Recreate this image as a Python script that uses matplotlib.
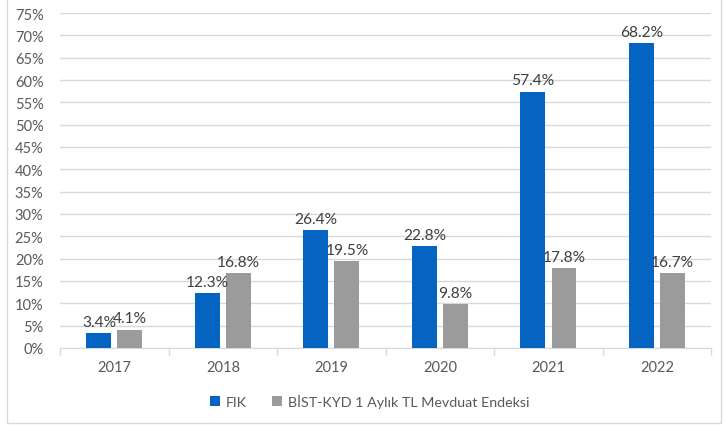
import numpy as np
import matplotlib.pyplot as plt
from matplotlib.patches import Rectangle

years = ["2017", "2018", "2019", "2020", "2021", "2022"]
fik = [3.4, 12.3, 26.4, 22.8, 57.4, 68.2]
bist = [4.1, 16.8, 19.5, 9.8, 17.8, 16.7]
yticks = np.arange(0, 80, 5)

plt.rcParams['font.family'] = ['Lato', 'DejaVu Sans']
txt = '#595959'

fig = plt.figure(figsize=(7.25, 4.27), dpi=100)
ax = fig.add_axes([0.083, 0.183, 0.898, 0.784])

x = np.arange(len(years))
w = 0.23
off = 0.143
b1 = ax.bar(x - off, fik, w, color='#0563C1', label='FIK', zorder=3)
b2 = ax.bar(x + off, bist, w, color='#9B9B9B', label='BİST-KYD 1 Aylık TL Mevduat Endeksi', zorder=3)

for bars, vals in ((b1, fik), (b2, bist)):
    for r, v in zip(bars, vals):
        ax.annotate(f"{v:.1f}%", (r.get_x() + r.get_width() / 2, v),
                    xytext=(0, 3), textcoords='offset points',
                    ha='center', va='bottom', fontsize=11.2, color='#404040')

ax.set_xlim(-0.5, len(years) - 0.5)
ax.set_ylim(0, 75)
ax.set_yticks(yticks)
ax.set_yticklabels([f"{t}%" for t in yticks])
ax.yaxis.grid(True, color='#D9D9D9', linewidth=1, zorder=0)
ax.tick_params(axis='y', length=0, labelsize=10.5, labelcolor=txt, pad=12)

ax.set_xticks(x)
ax.set_xticklabels(years)
ax.tick_params(axis='x', length=0, labelsize=10.5, labelcolor=txt, pad=9)
ax.set_xticks(np.arange(len(years) + 1) - 0.5, minor=True)
ax.tick_params(axis='x', which='minor', length=5, color='#D9D9D9', width=1)

for s in ['top', 'right', 'left']:
    ax.spines[s].set_visible(False)
ax.spines['bottom'].set_color('#D9D9D9')

fig.legend(handles=[b1, b2], loc='center', bbox_to_anchor=(0.51, 0.058), ncol=2,
           frameon=False, fontsize=10.3, labelcolor=txt, handlelength=0.7,
           handleheight=0.7, columnspacing=1.8, handletextpad=0.4)

fig.patches.append(Rectangle((0.01, 0.007), 0.985, 1.1, transform=fig.transFigure,
                             fill=False, edgecolor='#D9D9D9', linewidth=1))

fig.savefig('out.png', dpi=100)
